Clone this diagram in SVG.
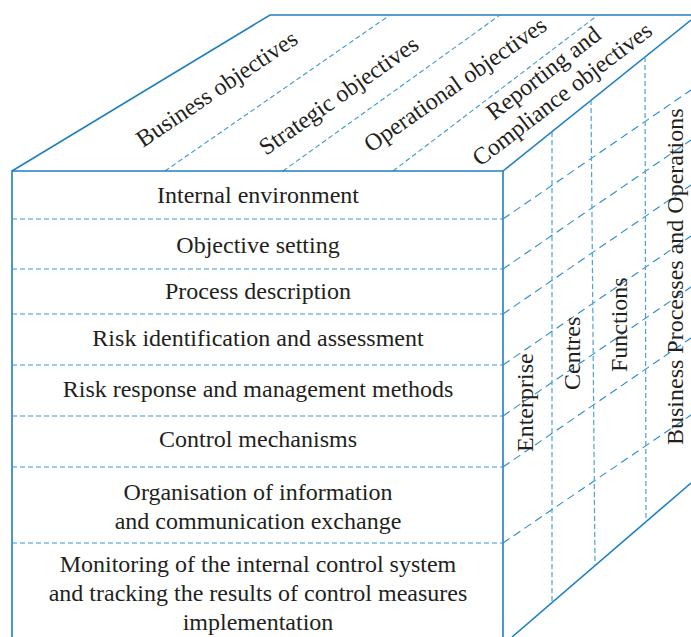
<svg xmlns="http://www.w3.org/2000/svg" width="691" height="637" viewBox="0 0 691 637">
  <style>
    .solid { fill: none; stroke: #1f80c0; stroke-width: 1.6; }
    .dash-h { fill: none; stroke: #3d97cf; stroke-width: 1.1; stroke-dasharray: 5 3; }
    .dash-d { fill: none; stroke: #2d8ccb; stroke-width: 1.1; stroke-dasharray: 8 5; }
    .dash-v { fill: none; stroke: #4aa2d6; stroke-width: 1.2; stroke-dasharray: 5 3; }
    text { font-family: "Liberation Serif", "Times New Roman", serif; font-size: 24px; fill: #231f20; }
    .c { text-anchor: middle; }
  </style>
  <rect width="691" height="637" fill="#ffffff"/>

  <!-- cube edges and grid lines -->
  <g id="connectors">
    <!-- top face outline -->
    <path class="solid" d="M12,171 L270,15 L691,15"/>
    <path class="solid" d="M503,171 L691,20"/>
    <!-- top face dividers -->
    <path class="dash-h" d="M165,171 L390,15"/>
    <path class="dash-h" d="M283,171 L500,15"/>
    <path class="dash-h" d="M393,171 L598,15"/>
    <!-- front face outline -->
    <path class="solid" d="M12,637 L12,171 L503,171 L503,637"/>
    <!-- front face row dividers -->
    <path class="dash-h" d="M12,219 H503"/>
    <path class="dash-h" d="M12,269 H503"/>
    <path class="dash-h" d="M12,314 H503"/>
    <path class="dash-h" d="M12,365 H503"/>
    <path class="dash-h" d="M12,416 H503"/>
    <path class="dash-h" d="M12,467 H503"/>
    <path class="dash-h" d="M12,543 H503"/>
    <!-- right face bottom edge -->
    <path class="solid" d="M512,637 L691,483"/>
    <!-- right face row lines -->
    <path class="dash-d" d="M503,219 L691,90"/>
    <path class="dash-d" d="M503,269 L691,140"/>
    <path class="dash-d" d="M503,314 L691,185"/>
    <path class="dash-d" d="M503,365 L691,236"/>
    <path class="dash-d" d="M503,416 L691,287"/>
    <path class="dash-d" d="M503,467 L691,338"/>
    <path class="dash-d" d="M503,543 L691,415"/>
    <!-- right face column lines -->
    <path class="dash-v" d="M552,132 L552,602"/>
    <path class="dash-v" d="M591,100 L595,565"/>
    <path class="dash-v" d="M645,57 L646,522"/>
  </g>

  <!-- top face labels -->
  <g id="business-objectives"><text transform="translate(143,148) rotate(-34)">Business objectives</text></g>
  <g id="strategic-objectives"><text transform="translate(266,156) rotate(-35)">Strategic objectives</text></g>
  <g id="operational-objectives"><text transform="translate(371,153) rotate(-35)">Operational objectives</text></g>
  <g id="reporting-compliance">
    <text transform="translate(494,121) rotate(-37.5)">Reporting and</text>
    <text transform="translate(480,167) rotate(-37.5)">Compliance objectives</text>
  </g>

  <!-- front face rows -->
  <g id="internal-environment"><text class="c" x="258" y="203">Internal environment</text></g>
  <g id="objective-setting"><text class="c" x="258" y="253">Objective setting</text></g>
  <g id="process-description"><text class="c" x="258" y="299">Process description</text></g>
  <g id="risk-identification"><text class="c" x="258" y="346">Risk identification and assessment</text></g>
  <g id="risk-response"><text class="c" x="258" y="397">Risk response and management methods</text></g>
  <g id="control-mechanisms"><text class="c" x="258" y="447">Control mechanisms</text></g>
  <g id="organisation">
    <text class="c" x="258" y="500">Organisation of information</text>
    <text class="c" x="258" y="529">and communication exchange</text>
  </g>
  <g id="monitoring">
    <text class="c" x="258" y="572">Monitoring of the internal control system</text>
    <text class="c" x="258" y="601">and tracking the results of control measures</text>
    <text class="c" x="258" y="630">implementation</text>
  </g>

  <!-- right face labels -->
  <g id="enterprise"><text transform="translate(533,452) rotate(-90)">Enterprise</text></g>
  <g id="centres"><text transform="translate(580,390) rotate(-90)">Centres</text></g>
  <g id="functions"><text transform="translate(627,372) rotate(-90)">Functions</text></g>
  <g id="business-processes"><text transform="translate(683,445) rotate(-90)">Business Processes and Operations</text></g>
</svg>
